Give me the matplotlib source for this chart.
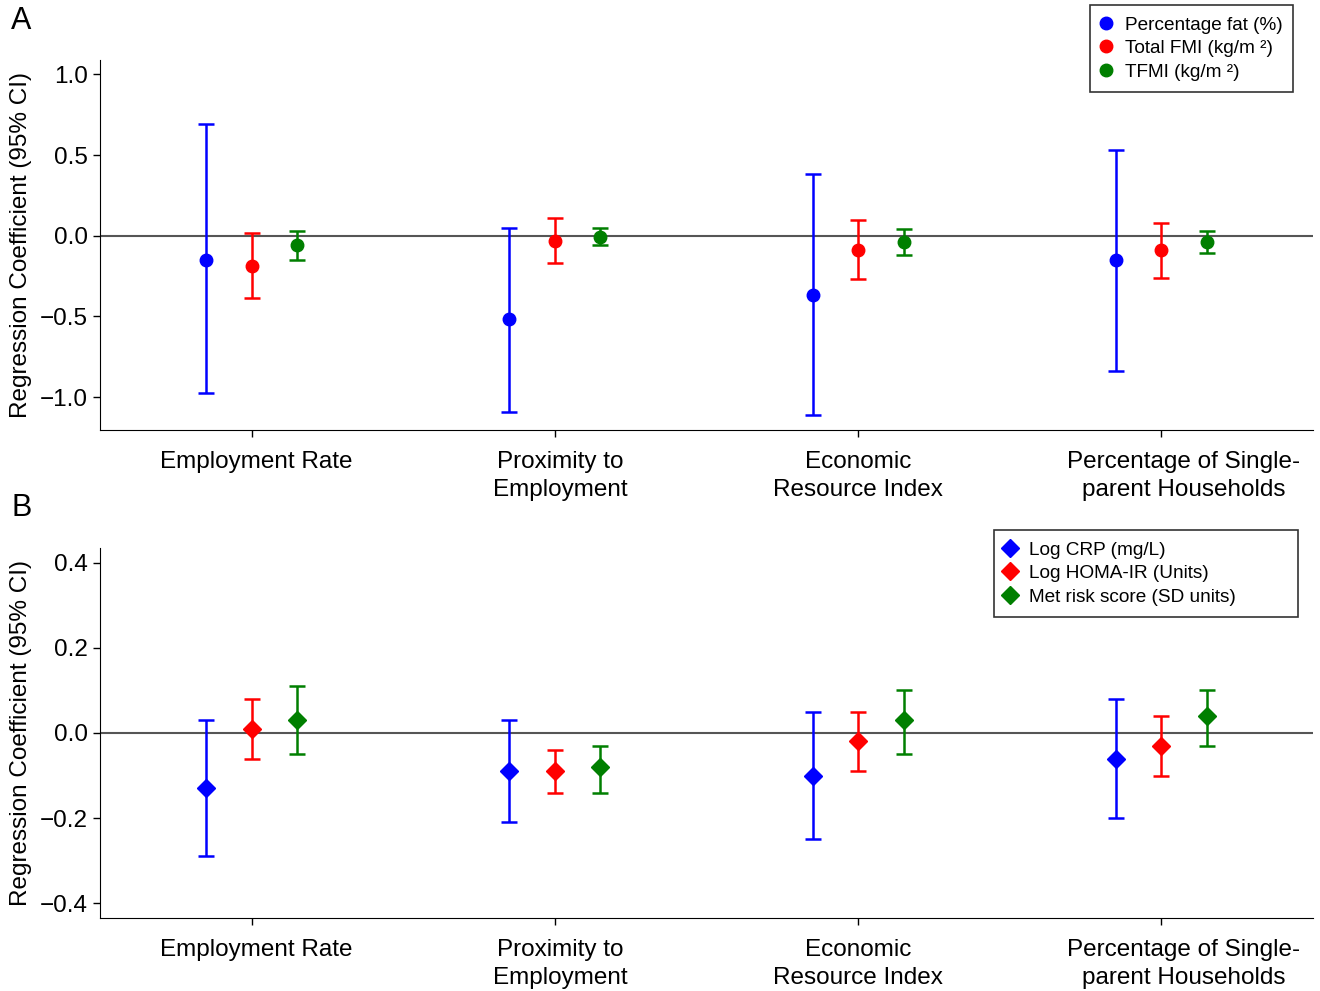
import numpy as np
import matplotlib
matplotlib.use('Agg')
import matplotlib.pyplot as plt
import matplotlib.transforms as mtransforms
from matplotlib.lines import Line2D

plt.rcParams['font.family'] = ['Liberation Sans', 'DejaVu Sans']

categories = ['Employment Rate', 'Proximity to\nEmployment',
              'Economic\nResource Index', 'Percentage of Single-\nparent Households']

# ── panel A: body composition ──
a_labels = ['Percentage fat (%)', 'Total FMI (kg/m \u00b2)', 'TFMI (kg/m \u00b2)']
a_est = [[-0.15, -0.515, -0.37, -0.15],
         [-0.19, -0.03, -0.09, -0.09],
         [-0.055, -0.01, -0.04, -0.04]]
a_lo = [[-0.975, -1.09, -1.11, -0.84],
        [-0.385, -0.17, -0.27, -0.26],
        [-0.15, -0.06, -0.12, -0.11]]
a_hi = [[0.69, 0.05, 0.38, 0.53],
        [0.02, 0.11, 0.10, 0.08],
        [0.03, 0.05, 0.04, 0.03]]

# ── panel B: metabolic markers ──
b_labels = ['Log CRP (mg/L)', 'Log HOMA-IR (Units)', 'Met risk score (SD units)']
b_est = [[-0.13, -0.09, -0.10, -0.06],
         [0.01, -0.09, -0.02, -0.03],
         [0.03, -0.08, 0.03, 0.04]]
b_lo = [[-0.29, -0.21, -0.25, -0.20],
        [-0.06, -0.14, -0.09, -0.10],
        [-0.05, -0.14, -0.05, -0.03]]
b_hi = [[0.03, 0.03, 0.05, 0.08],
        [0.08, -0.04, 0.05, 0.04],
        [0.11, -0.03, 0.10, 0.10]]

colors = ['#0000ff', '#ff0000', '#007f00']
offsets = [-0.15, 0.0, 0.15]
label_shift_px = [5, 5, 0, 22]   # tick labels sit a little right of their ticks

W, H = 1320, 991
fig = plt.figure(figsize=(13.2, 9.91), dpi=100)
ax_a = fig.add_axes([0.0758, 0.566, 0.9189, 0.3735])
ax_b = fig.add_axes([0.0758, 0.0737, 0.9189, 0.3733])


def draw_panel(ax, est, lo, hi, marker, ms, labels, ylim, yticks, ytl, box):
    x = np.arange(1, len(categories) + 1)
    ax.axhline(0, color='#555555', linewidth=1.5, zorder=1)
    handles = []
    for i in range(3):
        e = np.array(est[i])
        yerr = [e - np.array(lo[i]), np.array(hi[i]) - e]
        ax.errorbar(x + offsets[i], e, yerr=yerr, fmt=marker, color=colors[i],
                    markersize=ms, elinewidth=1.8, capsize=6, capthick=1.8, zorder=3)
        handles.append(Line2D([], [], marker=marker, linestyle='none',
                              color=colors[i], markersize=ms))
    ax.set_xlim(0.5, 4.5)
    ax.set_ylim(*ylim)
    ax.set_xticks(x)
    ax.set_xticklabels(categories, fontsize=17.5, linespacing=1.35)
    ax.set_yticks(yticks)
    ax.set_yticklabels(ytl, fontsize=17.5)
    ax.set_ylabel('Regression Coefficient (95% CI)', fontsize=17.5)
    ax.yaxis.set_label_coords(-0.056, 0.5)
    ax.spines['top'].set_visible(False)
    ax.spines['right'].set_visible(False)
    ax.tick_params(axis='y', direction='out', length=5, width=1, pad=4)
    ax.tick_params(axis='x', direction='out', length=5, width=1, pad=10)
    # shift after tick_params, which resets the label transforms
    for lab, dx in zip(ax.get_xticklabels(), label_shift_px):
        lab.set_transform(lab.get_transform() +
                          mtransforms.ScaledTranslation(dx / 100, 0, fig.dpi_scale_trans))
    x0, y0, x1, y1 = box
    leg = fig.legend(handles, labels, loc='upper left', mode='expand',
                     bbox_to_anchor=(x0 / W, 1 - y1 / H, (x1 - x0) / W, (y1 - y0) / H),
                     fontsize=13.7, frameon=True, fancybox=False, edgecolor='black',
                     handletextpad=0.8, borderpad=0.6, labelspacing=0.32,
                     handlelength=0.45, borderaxespad=0)
    leg.get_frame().set_linewidth(1.2)


draw_panel(ax_a, a_est, a_lo, a_hi, 'o', 9, a_labels, (-1.205, 1.09),
           [1.0, 0.5, 0.0, -0.5, -1.0], ['1.0', '0.5', '0.0', '\u22120.5', '\u22121.0'],
           (1090, 5, 1293, 88))
draw_panel(ax_b, b_est, b_lo, b_hi, 'D', 9, b_labels, (-0.435, 0.435),
           [0.4, 0.2, 0.0, -0.2, -0.4], ['0.4', '0.2', '0.0', '\u22120.2', '\u22120.4'],
           (994, 530, 1298, 613))

fig.text(11 / W, 1 - 21 / H, 'A', fontsize=22, va='center', ha='left')
fig.text(11 / W, 1 - 508 / H, 'B', fontsize=22, va='center', ha='left')

fig.savefig('out.png', dpi=100)
